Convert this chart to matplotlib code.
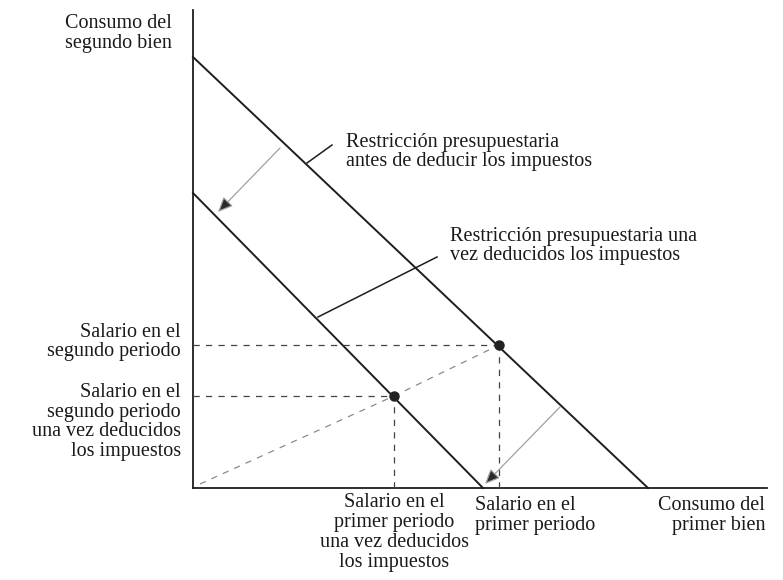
import matplotlib
matplotlib.use("Agg")
import matplotlib.pyplot as plt
from matplotlib.patches import FancyArrowPatch

plt.rcParams['font.family'] = ['Liberation Serif', 'DejaVu Serif']

# Data (economic units: 1 unit ~ 10 px)
before_tax_line_x = [0.0, 45.5]   # budget line before tax
before_tax_line_y = [43.1, 0.0]
after_tax_line_x = [0.0, 29.0]    # budget line after tax
after_tax_line_y = [29.5, 0.0]
endow_before = (30.6, 14.3)       # salary in both periods before tax
endow_after = (20.1, 9.2)         # salary after tax
diag_x = [0.7, 20.1, 30.6]
diag_y = [0.4, 9.2, 14.3]
yaxis_top = 47.8
xaxis_right = 57.4

fig = plt.figure(figsize=(7.83, 5.80), dpi=100)
ax = fig.add_axes([0, 0, 1, 1])
ax.set_xlim(-19.3, 59.0)
ax.set_ylim(-9.2, 48.8)
ax.axis('off')

dark = '#1e1e1e'
# axes
ax.plot([0, 0], [0, yaxis_top], color=dark, lw=1.3)
ax.plot([0, xaxis_right], [0, 0], color=dark, lw=1.3)

# budget lines
ax.plot(before_tax_line_x, before_tax_line_y, color=dark, lw=1.4)
ax.plot(after_tax_line_x, after_tax_line_y, color=dark, lw=1.4)

# dashed guides
dash = (0, (5, 5))
for (ex, ey) in (endow_before, endow_after):
    ax.plot([0, ex], [ey, ey], color='#444444', lw=0.9, linestyle=dash)
    ax.plot([ex, ex], [0, ey], color='#444444', lw=0.9, linestyle=dash)
ax.plot(diag_x, diag_y, color='#8a8a8a', lw=0.9, linestyle=dash)

# endowment points
ax.plot([endow_before[0], endow_after[0]], [endow_before[1], endow_after[1]],
        'o', color='#222222', markersize=6.5, zorder=5)

# arrows showing the shift
for (p0, p1) in (((8.7, 34.0), (2.5, 27.6)), ((36.7, 8.1), (29.2, 0.4))):
    arr = FancyArrowPatch(p0, p1, arrowstyle='-|>,head_length=9,head_width=4',
                          lw=0.9, ec='#a0a0a0', fc='#2a2a2a', mutation_scale=1,
                          shrinkA=0, shrinkB=0, zorder=4)
    ax.add_patch(arr)

# leader lines
ax.plot([11.4, 13.9], [32.5, 34.3], color=dark, lw=1.1)
ax.plot([12.5, 24.4], [17.1, 23.1], color=dark, lw=1.1)

fs = 14.5
ls = 1.06
tc = '#1a1a1a'
ax.text(-2.1, 47.4, 'Consumo del\nsegundo bien', ha='right', va='top',
        fontsize=fs, linespacing=ls, color=tc)
ax.text(-1.2, 14.6, 'Salario en el\nsegundo periodo', ha='right', va='center',
        fontsize=fs, linespacing=ls, color=tc)
ax.text(-1.2, 6.6, 'Salario en el\nsegundo periodo\nuna vez deducidos\nlos impuestos',
        ha='right', va='center', fontsize=fs, linespacing=ls, color=tc)
ax.text(20.1, -0.5, 'Salario en el\nprimer periodo\nuna vez deducidos\nlos impuestos',
        ha='center', va='top', fontsize=fs, linespacing=ls, color=tc, multialignment='center')
ax.text(28.2, -0.8, 'Salario en el\nprimer periodo', ha='left', va='top',
        fontsize=fs, linespacing=ls, color=tc)
ax.text(57.2, -0.8, 'Consumo del\nprimer bien', ha='right', va='top',
        fontsize=fs, linespacing=ls, color=tc, multialignment='right')
ax.text(15.3, 33.6, 'Restricción presupuestaria\nantes de deducir los impuestos',
        ha='left', va='center', fontsize=fs, linespacing=ls, color=tc)
ax.text(25.7, 24.2, 'Restricción presupuestaria una\nvez deducidos los impuestos',
        ha='left', va='center', fontsize=fs, linespacing=ls, color=tc)

fig.savefig('out.png', dpi=100, facecolor='white')
